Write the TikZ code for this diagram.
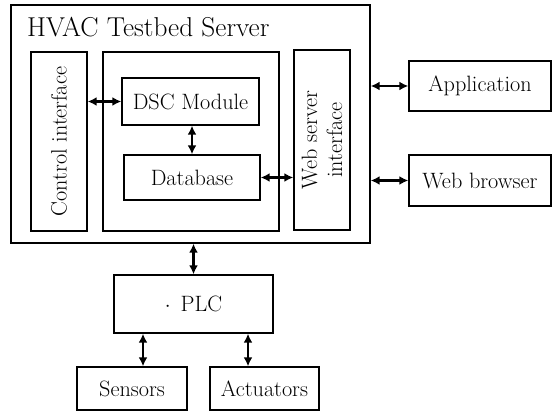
\documentclass[tikz,border=0pt]{standalone}
\usetikzlibrary{arrows.meta}
\begin{document}
\begin{tikzpicture}[x=1pt,y=-1pt,
  txt/.style={font=\fontsize{22.2}{25}\selectfont},
  box/.style={draw, line width=1.4pt, inner sep=0pt, txt},
  conn/.style={{Latex[length=9pt,width=9pt]}-{Latex[length=9pt,width=9pt]}, line width=2.6pt}]
\useasboundingbox (0,0) rectangle (553,411);
\node[box, minimum width=359pt, minimum height=238pt] (outer) at (190.5,124) {};
\node[anchor=base west, inner sep=0pt, font=\fontsize{27.3}{30}\selectfont] (title) at (27,37) {HVAC Testbed Server};
\node[box, minimum width=56pt, minimum height=179pt] (ctrl) at (59,141.5) {};
\node[rotate=90, txt] (ctrltxt) at (ctrl.center) {Control interface};
\node[box, minimum width=176pt, minimum height=179pt] (mid) at (191,141.5) {};
\node[box, minimum width=137pt, minimum height=47pt] (dsc) at (190.5,101.5) {DSC Module};
\node[box, minimum width=136pt, minimum height=45pt] (db) at (192,177.5) {Database};
\node[box, minimum width=56pt, minimum height=180pt] (web) at (322,140) {};
\node[rotate=90, align=center, txt] (webtxt) at (web.center) {Web server\\interface};
\node[box, minimum width=142pt, minimum height=50pt] (app) at (480,86) {Application};
\node[box, minimum width=142pt, minimum height=51pt] (wb) at (480,180.5) {Web browser};
\node[box, minimum width=159pt, minimum height=58pt] (plc) at (193.5,304) {$\cdot$\hspace{0.45em}PLC};
\node[box, minimum width=110pt, minimum height=43pt] (sens) at (132,388.5) {Sensors};
\node[box, minimum width=109pt, minimum height=43pt] (act) at (264.5,388.5) {Actuators};
\draw[conn] (ctrl.east |- dsc.west) -- (dsc.west);
\draw[conn] (dsc.south -| db.north) -- (db.north);
\draw[conn] (db.east) -- (web.west |- db.east);
\draw[conn] (outer.east |- app.west) -- (app.west);
\draw[conn] (outer.east |- wb.west) -- (wb.west);
\draw[conn] (plc.north |- outer.south) -- (plc.north);
\draw[conn] ([xshift=11pt]sens.north |- plc.south) -- ([xshift=11pt]sens.north);
\draw[conn] ([xshift=-16.5pt]act.north |- plc.south) -- ([xshift=-16.5pt]act.north);
\end{tikzpicture}
\end{document}
